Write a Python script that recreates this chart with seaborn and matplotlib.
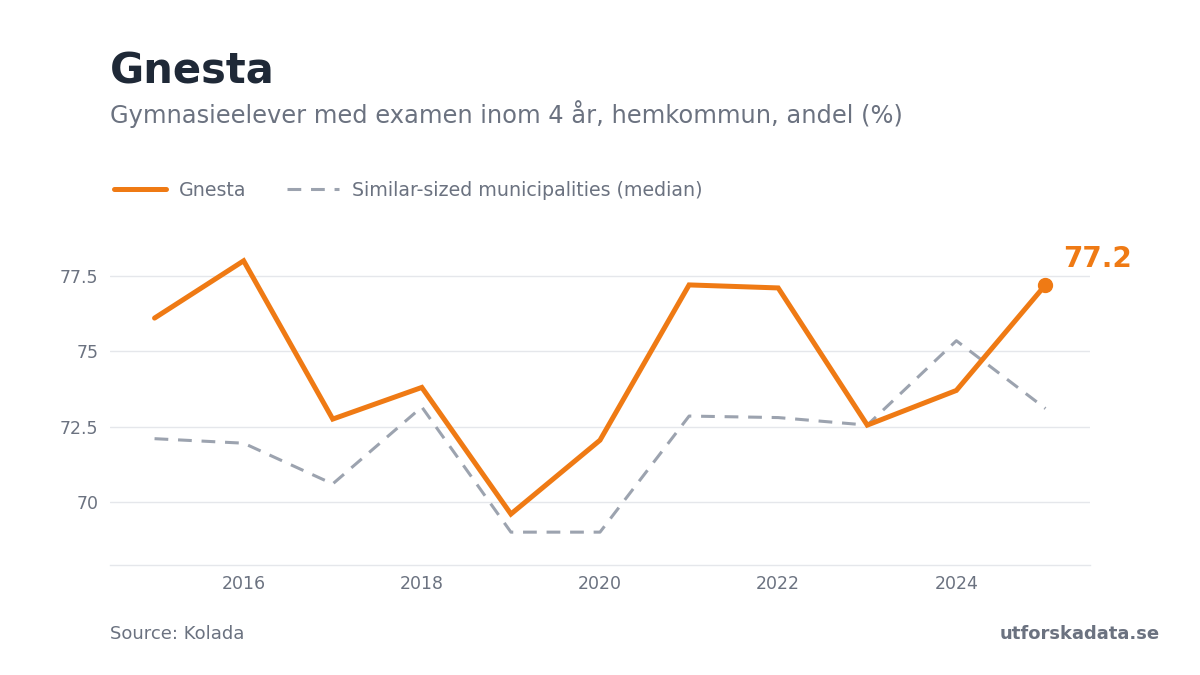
import matplotlib
matplotlib.use("Agg")
import matplotlib.pyplot as plt
import seaborn as sns
import pandas as pd

years = [2015, 2016, 2017, 2018, 2019, 2020, 2021, 2022, 2023, 2024, 2025]
gnesta = [76.1, 78.0, 72.75, 73.8, 69.6, 72.05, 77.2, 77.1, 72.55, 73.7, 77.2]
median = [72.1, 71.95, 70.6, 73.15, 69.0, 69.0, 72.85, 72.8, 72.55, 75.35, 73.1]
yticks = [70, 72.5, 75, 77.5]
ytick_labels = ["70", "72.5", "75", "77.5"]
xticks = [2016, 2018, 2020, 2022, 2024]

ORANGE = "#ef7a14"
GRAY_LINE = "#9ca3af"
GRID = "#e5e7eb"
TEXT = "#6b7280"
TITLE = "#1f2937"

sns.set_theme(style="white")
plt.rcParams["font.family"] = ["DejaVu Sans"]

fig = plt.figure(figsize=(12, 6.75), dpi=100)
ax = fig.add_axes([110 / 1200, 1 - 565 / 675, 980 / 1200, 325 / 675])

df_g = pd.DataFrame({"year": years, "value": gnesta})
df_m = pd.DataFrame({"year": years, "value": median})

sns.lineplot(data=df_m, x="year", y="value", ax=ax, color=GRAY_LINE,
             linewidth=2.2, label="Similar-sized municipalities (median)",
             zorder=2)
ax.lines[-1].set_dashes((4.5, 3.2))
sns.lineplot(data=df_g, x="year", y="value", ax=ax, color=ORANGE,
             linewidth=3.6, label="Gnesta", zorder=3)
ax.lines[-1].set_solid_capstyle("round")
ax.lines[-1].set_solid_joinstyle("miter")

# last point marker and label
ax.plot([years[-1]], [gnesta[-1]], "o", color=ORANGE, markersize=10, zorder=4)
ax.annotate(f"{gnesta[-1]:.1f}", xy=(years[-1], gnesta[-1]),
            xytext=(13, 19), textcoords="offset points",
            ha="left", va="center", fontsize=20, fontweight="bold",
            color=ORANGE)

ax.set_xlim(2014.5, 2025.5)
ax.set_ylim(67.91, 78.69)
ax.set_yticks(yticks)
ax.set_yticklabels(ytick_labels)
ax.set_xticks(xticks)
ax.set_xticklabels([str(x) for x in xticks])
ax.set_xlabel("")
ax.set_ylabel("")
ax.grid(axis="y", color=GRID, linewidth=1.0)
ax.grid(axis="x", visible=False)
ax.set_axisbelow(True)
for s in ["top", "right", "left"]:
    ax.spines[s].set_visible(False)
ax.spines["bottom"].set_color(GRID)
ax.spines["bottom"].set_linewidth(1.0)
ax.tick_params(axis="both", length=0, labelsize=12.5, labelcolor=TEXT)
ax.tick_params(axis="y", pad=8.5)
ax.tick_params(axis="x", pad=7)

# legend
handles, labels = ax.get_legend_handles_labels()
order = [labels.index("Gnesta"), labels.index("Similar-sized municipalities (median)")]
ax.get_legend().remove()
leg = fig.legend([handles[i] for i in order], [labels[i] for i in order],
                 loc="center left", bbox_to_anchor=(114 / 1200, 1 - 190 / 675),
                 ncol=2, frameon=False, fontsize=13.7, borderpad=0,
                 handlelength=2.75, handletextpad=0.68, columnspacing=2.1,
                 borderaxespad=0)
for t in leg.get_texts():
    t.set_color(TEXT)

fig.text(110 / 1200, 1 - 83 / 675, "Gnesta", fontsize=30, fontweight="bold",
         color=TITLE, ha="left", va="baseline")
fig.text(110 / 1200, 1 - 123 / 675,
         "Gymnasieelever med examen inom 4 år, hemkommun, andel (%)",
         fontsize=17.4, color=TEXT, ha="left", va="baseline")
fig.text(110 / 1200, 1 - 634 / 675, "Source: Kolada", fontsize=13,
         color=TEXT, ha="left", va="center")
fig.text(1160 / 1200, 1 - 634 / 675, "utforskadata.se", fontsize=13,
         fontweight="bold", color=TEXT, ha="right", va="center")

fig.savefig("out.png", dpi=100, facecolor="white")
